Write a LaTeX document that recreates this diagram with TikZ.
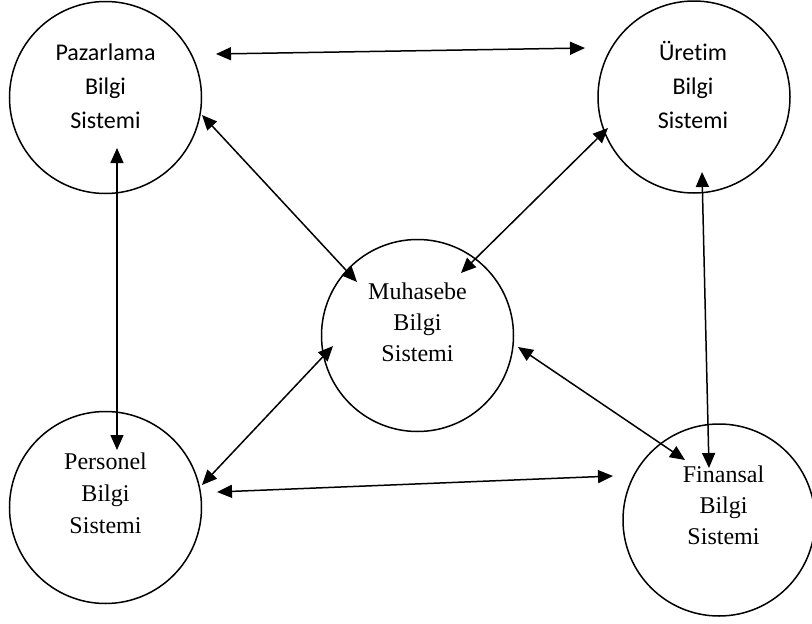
\documentclass[tikz,border=0pt]{standalone}
\usepackage{fontspec}
\setmainfont{Liberation Serif}
\newfontfamily\calib[Ligatures=NoCommon]{Carlito}
\usetikzlibrary{arrows.meta}
\tikzset{
  sysbox/.style={circle, draw, line width=1.5pt, minimum size=192pt, inner sep=0pt},
  sanslbl/.style={anchor=base, inner sep=0pt, font=\calib\fontsize{24}{27}\selectfont},
  seriflbl/.style={anchor=base, inner sep=0pt, font=\fontsize{24}{27}\selectfont},
  link/.style={line width=1.5pt, {Triangle[length=15pt,width=13pt]}-{Triangle[length=15pt,width=13pt]}}
}
\begin{document}
\begin{tikzpicture}[x=1pt,y=-1pt]
\useasboundingbox (0,0) rectangle (812,624);
% circles
\node[sysbox] (paz) at (105.5,97.5) {};
\node[sysbox] (ure) at (694,97) {};
\node[sysbox] (muh) at (417.5,335.5) {};
\node[sysbox] (per) at (105.5,507.5) {};
\node[sysbox] (fin) at (719,520) {};
% labels
\node[sanslbl] (paz1) at (105.5,60) {Pazarlama};
\node[sanslbl] (paz2) at (105.5,94) {Bilgi};
\node[sanslbl] (paz3) at (105.5,128) {Sistemi};
\node[sanslbl] (ure1) at (693,60) {Üretim};
\node[sanslbl] (ure2) at (693,94) {Bilgi};
\node[sanslbl] (ure3) at (693,128) {Sistemi};
\node[seriflbl] (muh1) at (417.5,299) {Muhasebe};
\node[seriflbl] (muh2) at (417.5,330) {Bilgi};
\node[seriflbl] (muh3) at (417.5,361) {Sistemi};
\node[seriflbl] (per1) at (105.5,469) {Personel};
\node[seriflbl] (per2) at (105.5,501) {Bilgi};
\node[seriflbl] (per3) at (105.5,533) {Sistemi};
\node[seriflbl] (fin1) at (723.5,482) {Finansal};
\node[seriflbl] (fin2) at (723.5,513) {Bilgi};
\node[seriflbl] (fin3) at (723.5,544) {Sistemi};
% connector ends
\coordinate (pazE) at (216,54);
\coordinate (ureW) at (585,48);
\coordinate (pazSE) at (202,115);
\coordinate (muhNW) at (357,282);
\coordinate (ureSW) at (608,128);
\coordinate (muhNE) at (461,273);
\coordinate (pazS) at (117,148);
\coordinate (perN) at (117,450);
\coordinate (ureS) at (702,172);
\coordinate (finN) at (709,468);
\coordinate (muhSW) at (333,346);
\coordinate (perNE) at (202,485);
\coordinate (muhE) at (518,347);
\coordinate (finNW) at (685,460);
\coordinate (perE) at (217,492);
\coordinate (finW) at (613,476);
% connectors
\draw[link] (pazE) -- (ureW);
\draw[link] (pazSE) -- (muhNW);
\draw[link] (ureSW) -- (muhNE);
\draw[link] (pazS) -- (perN);
\draw[link] (ureS) -- (finN);
\draw[link] (muhSW) -- (perNE);
\draw[link] (muhE) -- (finNW);
\draw[link] (perE) -- (finW);
\end{tikzpicture}
\end{document}
